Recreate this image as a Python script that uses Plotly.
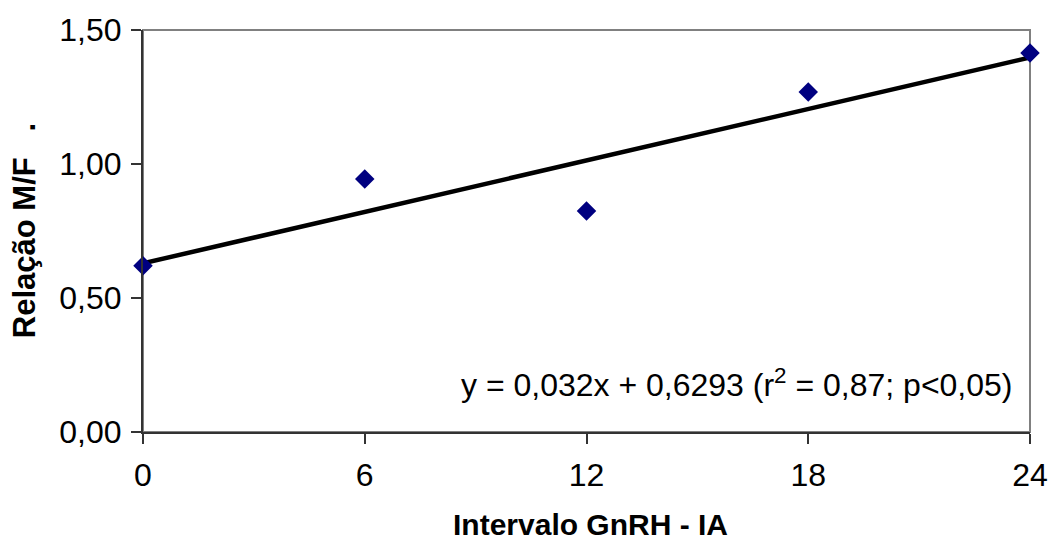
import plotly.graph_objects as go

x_vals = [0, 6, 12, 18, 24]
y_vals = [0.62, 0.944, 0.825, 1.269, 1.414]
slope = 0.032
intercept = 0.6293
x_ticks = [0, 6, 12, 18, 24]
y_ticks = [0, 0.5, 1.0, 1.5]
y_tick_labels = ["0,00", "0,50", "1,00", "1,50"]

FONT = "Liberation Sans, Arial, sans-serif"

fig = go.Figure()
fig.add_trace(go.Scatter(
    x=[x_vals[0], x_vals[-1]],
    y=[intercept + slope * x_vals[0], intercept + slope * x_vals[-1]],
    mode="lines", line=dict(color="black", width=4.5),
    hoverinfo="skip", showlegend=False, cliponaxis=False))
fig.add_trace(go.Scatter(
    x=x_vals, y=y_vals, mode="markers",
    marker=dict(symbol="diamond", size=15, color="#000080"),
    showlegend=False, cliponaxis=False))

fig.update_layout(
    width=1050, height=545,
    margin=dict(l=143, r=20, t=30, b=113, autoexpand=False),
    paper_bgcolor="white", plot_bgcolor="white",
    font=dict(family=FONT, size=32, color="black"),
    shapes=[dict(type="rect", xref="paper", yref="paper", x0=0, y0=0, x1=1, y1=1,
                 line=dict(color="#808080", width=2), layer="below")],
    xaxis=dict(range=[0, 24], tickvals=x_ticks, ticktext=[str(v) for v in x_ticks],
               ticks="outside", ticklen=10, tickcolor="#333", tickwidth=1.5,
               showline=True, linecolor="#333", linewidth=2, showgrid=False,
               zeroline=False, fixedrange=True, ticklabeloverflow="allow",
               automargin=False, ticklabelstandoff=4,
               tickfont=dict(family=FONT, size=32)),
    yaxis=dict(range=[0, 1.5], tickvals=y_ticks, ticktext=y_tick_labels,
               ticks="outside", ticklen=10, tickcolor="#333", tickwidth=1.5,
               showline=True, linecolor="#333", linewidth=2, showgrid=False,
               zeroline=False, fixedrange=True, automargin=False,
               ticklabelstandoff=3,
               tickfont=dict(family=FONT, size=32)),
    annotations=[
        dict(text="<b>Intervalo GnRH - IA</b>", xref="paper", yref="paper",
             x=0.504, y=-0.231, xanchor="center", yanchor="middle", showarrow=False,
             font=dict(family=FONT, size=30)),
        dict(text="<b>Relação M/F   .</b>", xref="paper", yref="paper",
             x=-0.134, y=0.5, xanchor="center", yanchor="middle", showarrow=False,
             textangle=-90, font=dict(family=FONT, size=31)),
        dict(text="y = 0,032x + 0,6293 (r<sup>2</sup> = 0,87; p<0,05)",
             xref="paper", yref="paper", x=0.983, y=0.122,
             xanchor="right", yanchor="middle", showarrow=False,
             font=dict(family=FONT, size=32)),
    ],
)

fig.write_html(
    "out.html",
    config={"displayModeBar": False},
    post_script="document.body.style.margin='0';document.documentElement.style.overflow='hidden';",
)
